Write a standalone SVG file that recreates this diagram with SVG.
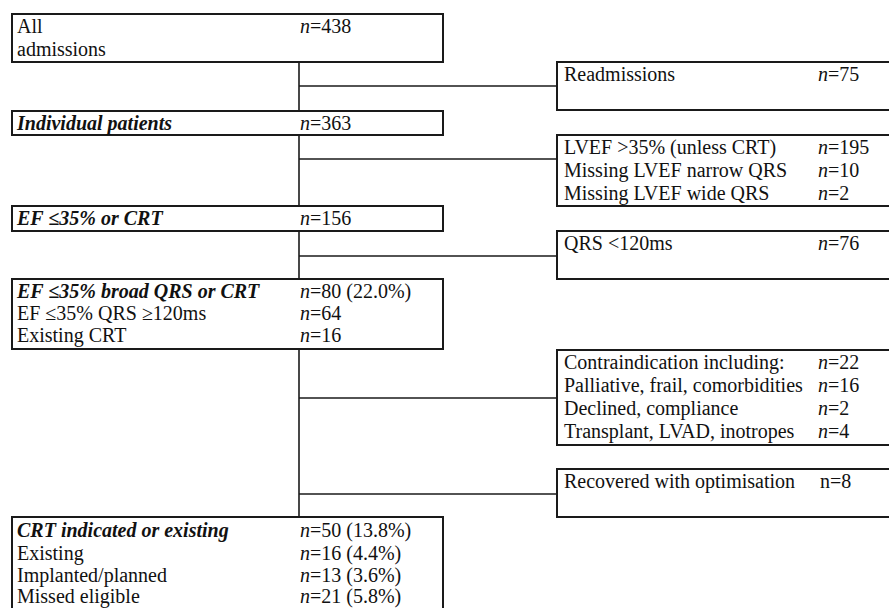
<svg xmlns="http://www.w3.org/2000/svg" width="889" height="608" viewBox="0 0 889 608">
<style>
.box{fill:#fff;stroke:#1a1a1a;stroke-width:2}
.con{stroke:#1a1a1a;stroke-width:1.6;fill:none}
text{font-family:"Liberation Serif","Times New Roman",serif;font-size:20px;fill:#111}
.bi{font-weight:bold;font-style:italic}
.i{font-style:italic}
</style>
<rect width="889" height="608" fill="#fff"/>
<g id="connectors">
<line class="con" x1="299" y1="62" x2="299" y2="111"/>
<line class="con" x1="299" y1="135" x2="299" y2="206"/>
<line class="con" x1="299" y1="231" x2="299" y2="279"/>
<line class="con" x1="299" y1="349" x2="299" y2="517"/>
<line class="con" x1="299" y1="86" x2="557" y2="86"/>
<line class="con" x1="299" y1="159" x2="557" y2="159"/>
<line class="con" x1="299" y1="256" x2="557" y2="256"/>
<line class="con" x1="299" y1="398" x2="557" y2="398"/>
<line class="con" x1="299" y1="494" x2="557" y2="494"/>
</g>
<g id="all-admissions">
<rect class="box" x="12" y="14" width="431" height="48"/>
<text x="17" y="33">All</text>
<text x="17" y="56">admissions</text>
<text x="300" y="33"><tspan class="i">n</tspan>=438</text>
</g>
<g id="individual-patients">
<rect class="box" x="12" y="111" width="431" height="24"/>
<text x="17" y="130" class="bi">Individual patients</text>
<text x="300" y="130"><tspan class="i">n</tspan>=363</text>
</g>
<g id="ef-or-crt">
<rect class="box" x="12" y="206" width="431" height="25"/>
<text x="17" y="225" class="bi">EF ≤35% or CRT</text>
<text x="300" y="225"><tspan class="i">n</tspan>=156</text>
</g>
<g id="ef-broad-qrs">
<rect class="box" x="12" y="279" width="431" height="70"/>
<text x="17" y="298" class="bi">EF ≤35% broad QRS or CRT</text>
<text x="300" y="298"><tspan class="i">n</tspan>=80 (22.0%)</text>
<text x="17" y="320">EF ≤35% QRS ≥120ms</text>
<text x="300" y="320"><tspan class="i">n</tspan>=64</text>
<text x="17" y="342">Existing CRT</text>
<text x="300" y="342"><tspan class="i">n</tspan>=16</text>
</g>
<g id="crt-indicated">
<rect class="box" x="12" y="517" width="431" height="110"/>
<text x="17" y="537" class="bi">CRT indicated or existing</text>
<text x="300" y="537"><tspan class="i">n</tspan>=50 (13.8%)</text>
<text x="17" y="560">Existing</text>
<text x="300" y="560"><tspan class="i">n</tspan>=16 (4.4%)</text>
<text x="17" y="582">Implanted/planned</text>
<text x="300" y="582"><tspan class="i">n</tspan>=13 (3.6%)</text>
<text x="17" y="603">Missed eligible</text>
<text x="300" y="603"><tspan class="i">n</tspan>=21 (5.8%)</text>
</g>
<g id="readmissions">
<rect class="box" x="557" y="62" width="345" height="48"/>
<text x="564" y="81">Readmissions</text>
<text x="818" y="81"><tspan class="i">n</tspan>=75</text>
</g>
<g id="lvef-excluded">
<rect class="box" x="557" y="135" width="345" height="71"/>
<text x="564" y="154">LVEF &gt;35% (unless CRT)</text>
<text x="818" y="154"><tspan class="i">n</tspan>=195</text>
<text x="564" y="177">Missing LVEF narrow QRS</text>
<text x="818" y="177"><tspan class="i">n</tspan>=10</text>
<text x="564" y="200">Missing LVEF wide QRS</text>
<text x="818" y="200"><tspan class="i">n</tspan>=2</text>
</g>
<g id="qrs-narrow">
<rect class="box" x="557" y="231" width="345" height="48"/>
<text x="564" y="250">QRS &lt;120ms</text>
<text x="818" y="250"><tspan class="i">n</tspan>=76</text>
</g>
<g id="contraindication">
<rect class="box" x="557" y="350" width="345" height="95"/>
<text x="564" y="369">Contraindication including:</text>
<text x="818" y="369"><tspan class="i">n</tspan>=22</text>
<text x="564" y="392">Palliative, frail, comorbidities</text>
<text x="818" y="392"><tspan class="i">n</tspan>=16</text>
<text x="564" y="415">Declined, compliance</text>
<text x="818" y="415"><tspan class="i">n</tspan>=2</text>
<text x="564" y="438">Transplant, LVAD, inotropes</text>
<text x="818" y="438"><tspan class="i">n</tspan>=4</text>
</g>
<g id="recovered">
<rect class="box" x="557" y="469" width="345" height="48"/>
<text x="564" y="488">Recovered with optimisation</text>
<text x="820" y="488">n=8</text>
</g>
</svg>
